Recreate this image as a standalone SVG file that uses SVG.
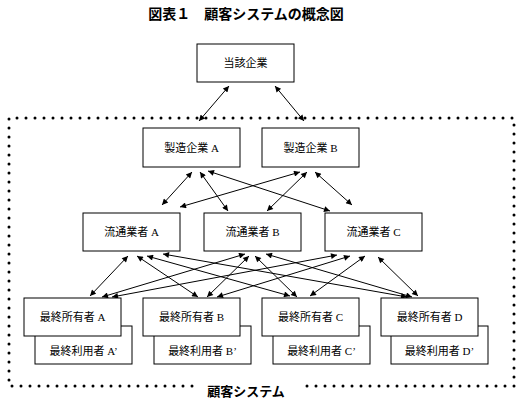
<svg xmlns="http://www.w3.org/2000/svg" width="522" height="405" viewBox="0 0 522 405">
<style>
.box{fill:#fff;stroke:#000;stroke-width:1}
.t{font-family:"Liberation Serif","Noto Sans CJK JP",serif;font-size:11px;fill:#000;text-anchor:middle}
.h{font-family:"Noto Sans CJK JP","Liberation Sans",sans-serif;font-weight:bold;fill:#000;text-anchor:middle}
.c{stroke:#000;stroke-width:1;fill:none;marker-start:url(#ah);marker-end:url(#ah)}
.dot{fill:none;stroke:#000;stroke-width:3;stroke-linecap:round;stroke-dasharray:0 9}
</style>
<defs>
<marker id="ah" viewBox="0 0 10 10" refX="10" refY="5" markerUnits="userSpaceOnUse" markerWidth="8" markerHeight="6" orient="auto-start-reverse">
<path d="M0,0 L10,5 L0,10 z" fill="#000"/>
</marker>
</defs>
<rect width="522" height="405" fill="#fff"/>
<text class="h" x="246" y="19" font-size="14">図表１　顧客システムの概念図</text>
<path class="dot" d="M192,386 H9 V118 H514 V386 H305"/>
<text class="h" x="246" y="396" font-size="13">顧客システム</text>
<g id="connectors">
<line class="c" x1="229" y1="86" x2="199" y2="121"/>
<line class="c" x1="275" y1="86" x2="304" y2="121"/>
<line class="c" x1="192" y1="172" x2="162" y2="205"/>
<line class="c" x1="200" y1="172" x2="228" y2="211"/>
<line class="c" x1="208" y1="171" x2="330" y2="211"/>
<line class="c" x1="300" y1="172" x2="180" y2="207"/>
<line class="c" x1="307" y1="172" x2="267" y2="211"/>
<line class="c" x1="315" y1="172" x2="352" y2="205"/>
<line class="c" x1="128" y1="256" x2="90" y2="296"/>
<line class="c" x1="137" y1="256" x2="198" y2="297"/>
<line class="c" x1="147" y1="256" x2="290" y2="296"/>
<line class="c" x1="163" y1="254" x2="407" y2="297"/>
<line class="c" x1="245" y1="254" x2="102" y2="297"/>
<line class="c" x1="249" y1="256" x2="207" y2="297"/>
<line class="c" x1="255" y1="256" x2="297" y2="297"/>
<line class="c" x1="266" y1="254" x2="412" y2="297"/>
<line class="c" x1="337" y1="255" x2="112" y2="297"/>
<line class="c" x1="350" y1="256" x2="217" y2="297"/>
<line class="c" x1="365" y1="256" x2="310" y2="296"/>
<line class="c" x1="378" y1="257" x2="418" y2="296"/>
</g>
<g id="target"><rect class="box" x="197" y="44" width="97" height="38"/><text class="t" x="245.5" y="67" font-size="12">当該企業</text></g>
<g id="makerA"><rect class="box" x="143" y="128" width="97" height="39"/><text class="t" x="191.5" y="152">製造企業 A</text></g>
<g id="makerB"><rect class="box" x="262" y="128" width="97" height="39"/><text class="t" x="310.5" y="152">製造企業 B</text></g>
<g id="distA"><rect class="box" x="83" y="213" width="97" height="38"/><text class="t" x="131.5" y="236">流通業者 A</text></g>
<g id="distB"><rect class="box" x="204" y="213" width="97" height="38"/><text class="t" x="252.5" y="236">流通業者 B</text></g>
<g id="distC"><rect class="box" x="325" y="213" width="97" height="38"/><text class="t" x="373.5" y="236">流通業者 C</text></g>
<g id="userA"><rect class="box" x="35" y="326" width="97" height="38"/><text class="t" x="83.5" y="355">最終利用者 A’</text></g>
<g id="userB"><rect class="box" x="154" y="326" width="97" height="38"/><text class="t" x="202.5" y="355">最終利用者 B’</text></g>
<g id="userC"><rect class="box" x="273" y="326" width="97" height="38"/><text class="t" x="321.5" y="355">最終利用者 C’</text></g>
<g id="userD"><rect class="box" x="391" y="326" width="97" height="38"/><text class="t" x="439.5" y="355">最終利用者 D’</text></g>
<g id="ownerA"><rect class="box" x="24" y="298" width="97" height="38"/><text class="t" x="72.5" y="321">最終所有者 A</text></g>
<g id="ownerB"><rect class="box" x="143" y="298" width="97" height="38"/><text class="t" x="191.5" y="321">最終所有者 B</text></g>
<g id="ownerC"><rect class="box" x="262" y="298" width="97" height="38"/><text class="t" x="310.5" y="321">最終所有者 C</text></g>
<g id="ownerD"><rect class="box" x="381" y="298" width="97" height="38"/><text class="t" x="429.5" y="321">最終所有者 D</text></g>
</svg>
